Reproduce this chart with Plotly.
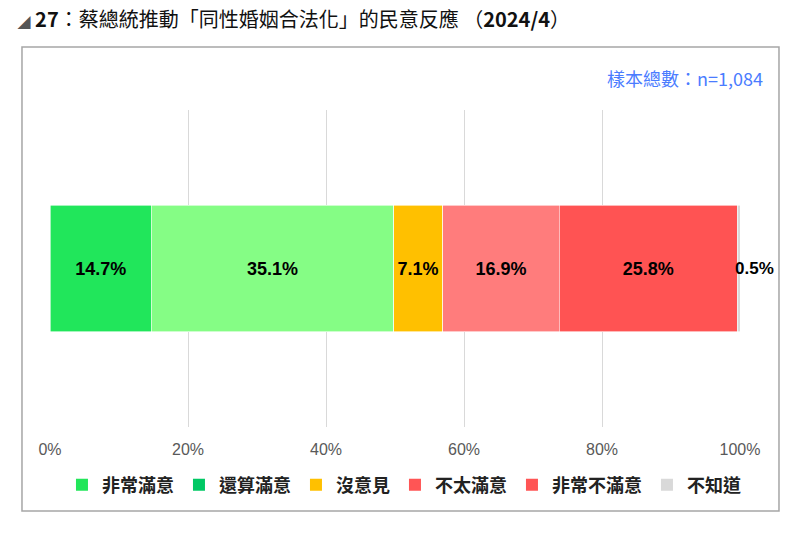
"""Poll chart 27

Stacked horizontal bar: public response to the push to legalise
same-sex marriage (2024/4)
"""

import plotly.graph_objects as go

categories = ["非常滿意", "還算滿意", "沒意見", "不太滿意", "非常不滿意", "不知道"]
values = [14.7, 35.1, 7.1, 16.9, 25.8, 0.5]
tick_vals = [0, 20, 40, 60, 80, 100]
tick_text = ["0%", "20%", "40%", "60%", "80%", "100%"]

# colours used in the bars and (slightly different) in the legend
bar_colors = ["#21e65b", "#85fd85", "#ffc000", "#ff7c7c", "#ff5353", "#d9d9d9"]
legend_colors = ["#22e65a", "#00c864", "#ffc000", "#ff5555", "#ff5555", "#d9d9d9"]

label_font = dict(family="Liberation Sans, Arial", size=18, color="black",
                  weight="bold")

fig = go.Figure()
for name, val, color in zip(categories, values, bar_colors):
    small = val < 2
    fig.add_bar(
        x=[val],
        y=[""],
        orientation="h",
        name=name,
        marker=dict(color=color, line=dict(color="white", width=0.6)),
        text=None if small else [f"{val}%"],
        textposition="inside",
        insidetextanchor="middle",
        textangle=0,
        textfont=label_font,
        showlegend=False,
    )

# the tiny last segment gets its label at the end of the stack
fig.add_annotation(
    x=sum(values[:-1]), y=0, xref="x", yref="y",
    text=f"<b>{values[-1]}%</b>",
    xanchor="left", yanchor="middle", xshift=-4,
    showarrow=False, font=dict(label_font, size=17),
)

# legend entries (legend swatches have their own colours in the original)
for name, color in zip(categories, legend_colors):
    fig.add_scatter(
        x=[None], y=[None], mode="markers", name=name,
        marker=dict(symbol="square", size=12, color=color),
    )

fig.update_layout(
    barmode="stack",
    bargap=0.6,
    width=800,
    height=536,
    margin=dict(l=50, r=60, t=110, b=109),
    paper_bgcolor="white",
    plot_bgcolor="white",
    font=dict(family="Noto Sans CJK TC, Noto Sans", color="black"),
    title=dict(
        text="<span style='font-size:13px;color:#555555'>◢</span> <b>27</b>："
             "蔡總統推動「同性婚姻合法化」的民意反應 （<b>2024/4</b>）",
        x=0.022, xref="container", xanchor="left",
        y=0.962, yref="container", yanchor="middle",
        font=dict(size=20, color="#111111"),
    ),
    legend=dict(
        orientation="h",
        traceorder="normal",
        x=0.513, xanchor="center",
        y=-0.183, yanchor="middle",
        font=dict(size=18, color="#222222", weight="bold"),
        itemwidth=30,
        tracegroupgap=0,
    ),
    showlegend=True,
)

fig.update_xaxes(
    range=[0, 100],
    tickvals=tick_vals,
    ticktext=tick_text,
    showgrid=True,
    gridcolor="#d9d9d9",
    gridwidth=1,
    zeroline=False,
    ticks="outside",
    ticklen=8,
    tickcolor="rgba(0,0,0,0)",
    tickfont=dict(family="Liberation Sans, Arial", size=16, color="#595959"),
    fixedrange=True,
)
fig.update_yaxes(showticklabels=False, showgrid=False, zeroline=False,
                 fixedrange=True)

# sample size note
fig.add_annotation(
    text="樣本總數：n=1,084",
    xref="paper", yref="paper",
    x=1.036, y=1.101, xanchor="right", yanchor="middle",
    showarrow=False,
    font=dict(size=18, color="#4a7cff"),
)

# outer frame
fig.add_shape(
    type="rect", xref="paper", yref="paper",
    x0=-0.0406, x1=1.0565, y0=-0.265, y1=1.199,
    line=dict(color="#a6a6a6", width=1.5),
    layer="below",
)

fig.write_html("out.html", config={"displayModeBar": False},
               post_script="document.body.style.margin='0';")
